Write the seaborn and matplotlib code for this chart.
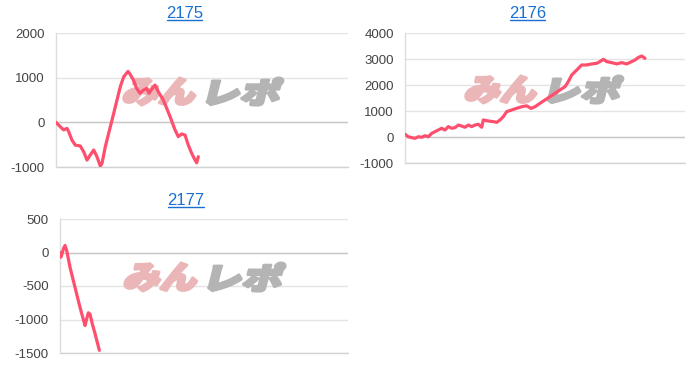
import numpy as np
import pandas as pd
import seaborn as sns
import matplotlib.pyplot as plt
from matplotlib.textpath import TextPath
from matplotlib.patches import PathPatch
from matplotlib.font_manager import FontProperties
from matplotlib.transforms import Affine2D
from matplotlib.lines import Line2D

# ---- data (games, difference coins) ----
titles = ["2175", "2176", "2177"]
x_max = 8000

g_2175 = [0, 118, 211, 301, 348, 438, 529, 666, 759, 849, 940, 1033, 1123, 1214, 1260,
          1351, 1488, 1581, 1671, 1762, 1855, 1973, 2028, 2118, 2211, 2302, 2392, 2485,
          2548, 2622, 2713, 2803, 2940, 3033, 3124, 3261, 3351, 3444, 3535, 3625, 3718,
          3809, 3855, 3899]
v_2175 = [0, -100, -170, -135, -210, -400, -510, -530, -660, -845, -730, -620, -770, -980, -920,
          -545, -100, 200, 500, 800, 1020, 1140, 1080, 950, 760, 650, 720, 760,
          650, 740, 835, 685, 500, 315, 130, -170, -320, -260, -285, -510, -695,
          -845, -905, -770]

g_2176 = [0, 94, 191, 286, 380, 477, 571, 666, 763, 857, 951, 1049, 1143, 1237, 1334, 1429,
          1523, 1620, 1714, 1808, 1906, 2000, 2094, 2191, 2237, 2380, 2523, 2620, 2714, 2808,
          2906, 3048, 3191, 3334, 3477, 3600, 3714, 3857, 4000, 4143, 4286, 4428, 4571, 4666,
          4763, 4906, 5048, 5191, 5334, 5477, 5571, 5666, 5763, 5906, 6048, 6191, 6334, 6477,
          6571, 6666, 6763, 6857]
v_2176 = [105, 10, -25, -50, 10, -10, 50, 10, 140, 205, 270, 335, 270, 400, 335, 360,
          460, 420, 375, 460, 400, 460, 490, 375, 655, 615, 590, 565, 655, 780,
          975, 1040, 1105, 1165, 1200, 1100, 1165, 1295, 1425, 1550, 1680, 1810, 1935, 2130,
          2385, 2575, 2770, 2770, 2810, 2835, 2900, 2990, 2900, 2860, 2810, 2860, 2810, 2900,
          2960, 3060, 3115, 3025]

g_2177 = [0, 22, 56, 97, 139, 186, 278, 417, 556, 695, 737, 787, 834, 890, 973, 1093]
v_2177 = [0, -70, -20, 60, 105, 30, -220, -520, -820, -1090, -1000, -900, -920, -1050, -1210, -1460]

yticks_2175 = [-1000, 0, 1000, 2000]
yticks_2176 = [-1000, 0, 1000, 2000, 3000, 4000]
yticks_2177 = [-1500, -1000, -500, 0, 500]

# ---- style ----
sns.set_theme(style="white")
plt.rcParams['font.family'] = ['Liberation Sans', 'DejaVu Sans']
plt.rcParams['axes.unicode_minus'] = False

LINE = '#ff4f6f'
GRID = '#e4e4e4'
ZERO = '#c9c9c9'
W, H = 700, 368

fig = plt.figure(figsize=(7, 3.68), dpi=100)
fig.patch.set_facecolor('white')

axes_px = [(56, 33, 348, 167), (405, 33, 685, 163), (60, 219, 348, 353)]
title_px = [(184.5, 13.5), (527.5, 13.5), (186, 200.5)]
logo_px = [(121, 77, 162, 29), (463, 75, 160, 29), (122, 262, 163, 30)]
datasets = [(g_2175, v_2175, yticks_2175), (g_2176, v_2176, yticks_2176), (g_2177, v_2177, yticks_2177)]

pink = '#ebb6b8'
gray = '#b4b4b4'
fp_logo = FontProperties(family=['Noto Sans CJK JP'], weight='black')


def draw_logo(ax, x0, top, w, h):
    parts = [('みん', pink, 0.0, 0.48), ('レポ', gray, 0.52, 1.0)]
    for txt, col, f0, f1 in parts:
        tp = TextPath((0, 0), txt, size=100, prop=fp_logo)
        ext = tp.get_extents()
        tw = (f1 - f0) * w - 7
        sx = tw / ext.width
        sy = (h - 2) / ext.height
        tr = (Affine2D().translate(-ext.x0, -ext.y0).scale(sx, sy)
              .skew_deg(14, 0).translate(x0 + f0 * w + 1, H - (top + h) + 1))
        p = PathPatch(tp, transform=tr, fc=col, ec=col, lw=2.2, joinstyle='round',
                      zorder=1, clip_on=False)
        ax.add_artist(p)


title_texts = []
for (l, t, r, b), (tx, ty), lg, (gx, gv, yt), title in zip(axes_px, title_px, logo_px, datasets, titles):
    ax = fig.add_axes([l / W, 1 - b / H, (r - l) / W, (b - t) / H])
    df = pd.DataFrame({'game': gx, 'diff': gv})
    sns.lineplot(data=df, x='game', y='diff', ax=ax, color=LINE, linewidth=2.3,
                 estimator=None, sort=False, zorder=3)
    ax.set_xlim(0, x_max)
    ax.set_ylim(yt[0], yt[-1])
    ax.set_yticks(yt)
    ax.set_yticklabels([str(v) for v in yt])
    ax.set_xticks([])
    ax.set_xlabel('')
    ax.set_ylabel('')
    ax.set_facecolor('white')
    for s in ['top', 'right', 'bottom']:
        ax.spines[s].set_visible(False)
    ax.spines['left'].set_color('#dcdcdc')
    ax.spines['left'].set_linewidth(1)
    ax.set_axisbelow(True)
    ax.yaxis.grid(True, color=GRID, linewidth=1)
    ax.axhline(0, color=ZERO, linewidth=1, zorder=0.8)
    ax.axhline(yt[0], color='#d2d2d2', linewidth=1, zorder=0.8, clip_on=False)
    ax.tick_params(axis='y', length=7, width=1, color='#dcdcdc', pad=1,
                   labelsize=9.5, labelcolor='#444444')
    draw_logo(ax, *lg)
    t_obj = fig.text(tx / W, 1 - ty / H, title, ha='center', va='center',
                     color='#1a6fd1', fontsize=12)
    title_texts.append(t_obj)

fig.canvas.draw()
inv = fig.transFigure.inverted()
for t_obj in title_texts:
    bb = t_obj.get_window_extent()
    (x0, y0) = inv.transform((bb.x0 + 1, bb.y0 + 1.5))
    (x1, _) = inv.transform((bb.x1 - 1, bb.y0 + 1.5))
    fig.add_artist(Line2D([x0, x1], [y0, y0], transform=fig.transFigure,
                          color='#1a6fd1', linewidth=1))

fig.savefig('out.png', dpi=100, facecolor='white')
